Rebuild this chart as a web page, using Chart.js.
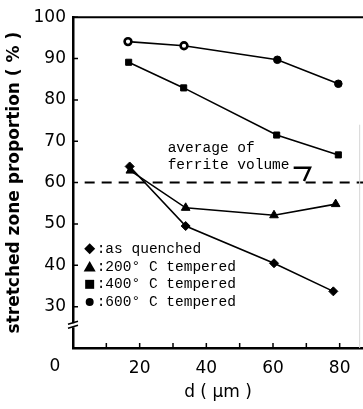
<!DOCTYPE html>
<html>
<head>
<meta charset="utf-8">
<script src="https://cdn.jsdelivr.net/npm/chart.js@4/dist/chart.umd.min.js"></script>
<style>
  html, body { margin: 0; padding: 0; background: #fff; }
  #wrap { width: 363px; height: 409px; }
</style>
</head>
<body>
<div id="wrap"><canvas id="szChart" width="363" height="409"></canvas></div>
<script>
// grain size d (um) and stretched zone proportion (%)
const seriesNames = ['as quenched', '200° C tempered', '400° C tempered', '600° C tempered'];
const quenchedX = [17.0, 33.8, 60.3, 78.1];
const quenchedY = [63.9, 49.5, 40.5, 33.7];
const t200X = [17.2, 33.8, 60.3, 78.8];
const t200Y = [62.9, 53.9, 52.1, 54.8];
const t400X = [16.7, 33.2, 61.1, 79.6];
const t400Y = [89.1, 82.9, 71.5, 66.7];
const t600X = [16.5, 33.3, 61.3, 79.6];
const t600Y = [94.1, 93.1, 89.7, 83.9];
const ferriteAvg = 60;
const xTicks = [0, 20, 40, 60, 80];
const yTicks = [30, 40, 50, 60, 70, 80, 90, 100];

const pts = (xs, ys) => xs.map((x, i) => ({ x: x, y: ys[i] }));

const ctxEl = document.getElementById('szChart');

// inward ticks, frame, axis break, annotation and legend
const decorPlugin = {
    id: 'decor',
    afterDatasetsDraw(chart) {
        const ctx = chart.ctx;
        const xs = chart.scales.x, ys = chart.scales.y;
        const area = chart.chartArea;
        const px = v => xs.getPixelForValue(v);
        const py = v => ys.getPixelForValue(v);
        ctx.save();
        ctx.strokeStyle = '#000';
        ctx.fillStyle = '#000';
        ctx.lineWidth = 2;

        // top frame line
        ctx.beginPath();
        ctx.moveTo(area.left, area.top);
        ctx.lineTo(area.right, area.top);
        ctx.stroke();

        // faint right edge from the scan
        ctx.strokeStyle = '#d6d6d6';
        ctx.lineWidth = 1;
        ctx.beginPath();
        ctx.moveTo(px(86), py(74));
        ctx.lineTo(px(86), area.bottom);
        ctx.stroke();
        ctx.strokeStyle = '#000';

        // inward ticks
        ctx.lineWidth = 1.5;
        ctx.beginPath();
        for (let v = 30; v <= 100; v += 10) {
            ctx.moveTo(area.left, py(v));
            ctx.lineTo(area.left + 5, py(v));
        }
        for (let v = 10; v <= 80; v += 10) {
            ctx.moveTo(px(v), area.bottom);
            ctx.lineTo(px(v), area.bottom - 5);
        }
        ctx.stroke();

        // axis break
        const bx = area.left, by = py(25.5);
        ctx.fillStyle = '#fff';
        ctx.fillRect(bx - 2, by - 2, 4, 4);
        ctx.fillStyle = '#000';
        ctx.lineWidth = 1.5;
        ctx.beginPath();
        ctx.moveTo(bx - 5, by - 1); ctx.lineTo(bx + 5, by - 4);
        ctx.moveTo(bx - 5, by + 3); ctx.lineTo(bx + 5, by);
        ctx.stroke();

        // origin label
        ctx.font = '17px "DejaVu Sans"';
        ctx.textAlign = 'center';
        ctx.textBaseline = 'middle';
        ctx.fillText('0', 55, xs.bottom - 42);

        // annotation
        ctx.font = '14.5px "Liberation Mono"';
        ctx.textAlign = 'left';
        ctx.fillText('average of', px(28.4), py(68.3));
        ctx.fillText('ferrite volume', px(28.4), py(64.2));
        ctx.lineWidth = 2.5;
        ctx.beginPath();
        ctx.moveTo(px(66.2), py(63.6));
        ctx.lineTo(px(71.1), py(63.6));
        ctx.lineTo(px(69.3), py(60.4));
        ctx.stroke();

        // legend
        const styles = ['diamond', 'triangle', 'square', 'dot'];
        const rowsY = [44.0, 39.6, 35.4, 31.1];
        const mx = px(5.0), tx = px(7.1);
        seriesNames.forEach((name, i) => {
            const y = py(rowsY[i]);
            ctx.beginPath();
            if (styles[i] === 'diamond') {
                ctx.moveTo(mx, y - 5.5); ctx.lineTo(mx + 5.5, y);
                ctx.lineTo(mx, y + 5.5); ctx.lineTo(mx - 5.5, y);
            } else if (styles[i] === 'triangle') {
                ctx.moveTo(mx, y - 6); ctx.lineTo(mx + 6, y + 4.5);
                ctx.lineTo(mx - 6, y + 4.5);
            } else if (styles[i] === 'square') {
                ctx.rect(mx - 4.5, y - 4.5, 9, 9);
            } else {
                ctx.arc(mx, y, 4, 0, Math.PI * 2);
            }
            ctx.closePath();
            ctx.fill();
            ctx.fillText(':' + name, tx, y);
        });
        ctx.restore();
    }
};

const lineDs = (label, data, style, radius) => ({
    label: label,
    data: data,
    borderColor: '#000',
    backgroundColor: '#000',
    borderWidth: 1.6,
    pointStyle: style,
    pointRadius: radius,
    pointBorderWidth: 1,
    pointBorderColor: '#000',
    pointBackgroundColor: '#000',
    tension: 0
});

const ds600 = lineDs(seriesNames[3], pts(t600X, t600Y), 'circle', 3.8);
ds600.pointBackgroundColor = ['#fff', '#fff', '#000', '#000'];
ds600.pointBorderWidth = [2.6, 2.6, 1, 1];
ds600.pointRadius = [3.4, 3.4, 3.8, 3.8];

window.szChart = new Chart(ctxEl.getContext('2d'), {
    type: 'line',
    data: {
        datasets: [
            lineDs(seriesNames[0], pts(quenchedX, quenchedY), 'rectRot', 4.5),
            lineDs(seriesNames[1], pts(t200X, t200Y), 'triangle', 5),
            lineDs(seriesNames[2], pts(t400X, t400Y), 'rect', 4.3),
            ds600,
            {
                label: 'average of ferrite volume',
                data: [{ x: 3.5, y: ferriteAvg }, { x: 87, y: ferriteAvg }],
                borderColor: '#000',
                borderWidth: 2,
                borderDash: [10, 7],
                pointRadius: 0
            }
        ]
    },
    options: {
        responsive: false,
        animation: false,
        layout: { autoPadding: false, padding: { top: 15, right: 0, left: 0, bottom: 0 } },
        plugins: {
            legend: { display: false },
            tooltip: { enabled: false }
        },
        scales: {
            x: {
                type: 'linear',
                min: 0,
                max: 87,
                afterFit: s => { s.height = 61; },
                afterBuildTicks: s => { s.ticks = xTicks.map(v => ({ value: v })); },
                grid: { display: false, drawTicks: false },
                border: { display: true, color: '#000', width: 2.5 },
                ticks: {
                    color: '#000',
                    padding: 10,
                    maxRotation: 0,
                    font: { family: 'DejaVu Sans', size: 17 },
                    callback: v => (v === 0 ? '' : v)
                },
                title: {
                    display: true,
                    text: 'd ( μm )',
                    color: '#000',
                    font: { family: 'DejaVu Sans', size: 17 },
                    padding: { top: 6, bottom: 6 }
                }
            },
            y: {
                min: 20,
                max: 100,
                afterFit: s => { s.width = 73; },
                afterBuildTicks: s => { s.ticks = yTicks.map(v => ({ value: v })); },
                grid: { display: false, drawTicks: false },
                border: { display: true, color: '#000', width: 2.5 },
                ticks: {
                    color: '#000',
                    padding: 7,
                    font: { family: 'DejaVu Sans', size: 17 }
                },
                title: {
                    display: true,
                    text: 'stretched zone proportion ( % )',
                    color: '#000',
                    font: { family: 'DejaVu Sans', size: 17, weight: 'bold' },
                    padding: { top: 4, bottom: 0 }
                }
            }
        }
    },
    plugins: [decorPlugin]
});
</script>
</body>
</html>
